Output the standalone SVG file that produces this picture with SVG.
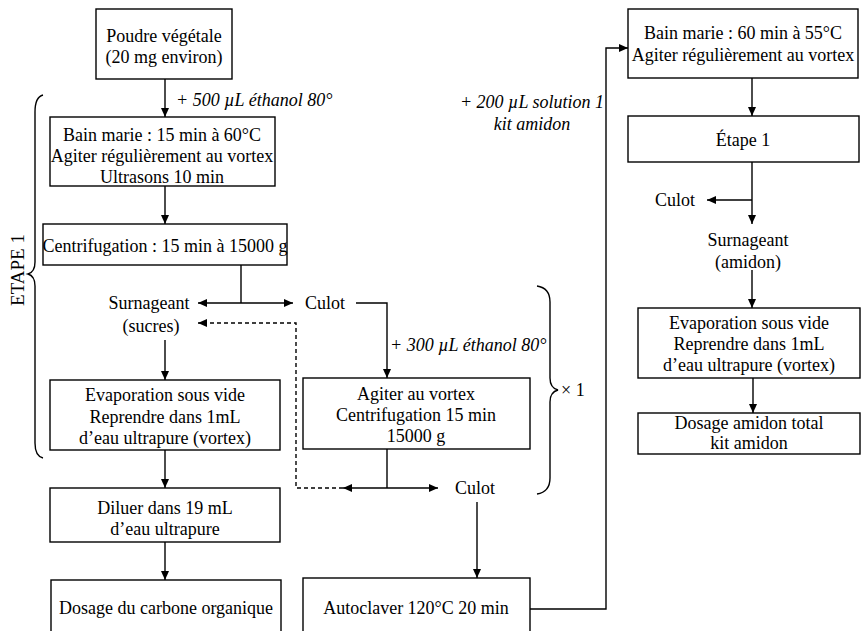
<svg xmlns="http://www.w3.org/2000/svg" width="863" height="631" viewBox="0 0 863 631">
<style>
.box{fill:#fff;stroke:#000;stroke-width:1.4}
.t{font-family:"Liberation Serif","Times New Roman",serif;font-size:18px;fill:#000;text-anchor:middle}
.i{font-style:italic}
.c{fill:none;stroke:#000;stroke-width:1.4}
.d{stroke-dasharray:4 3}
</style>
<defs>
<marker id="a" markerWidth="10" markerHeight="8" refX="9" refY="4" orient="auto" markerUnits="userSpaceOnUse">
<path d="M0,0 L9,4 L0,8 z" fill="#000"/>
</marker>
</defs>
<rect width="863" height="631" fill="#fff"/>
<g id="connectors">
<path class="c" d="M165,79 V117" marker-end="url(#a)"/>
<path class="c" d="M165,186 V224" marker-end="url(#a)"/>
<path class="c" d="M241,265 V303"/>
<path class="c" d="M241,303 H198" marker-end="url(#a)"/>
<path class="c" d="M241,303 H293" marker-end="url(#a)"/>
<path class="c" d="M165,340 V380" marker-end="url(#a)"/>
<path class="c" d="M165,450 V488" marker-end="url(#a)"/>
<path class="c" d="M165,542 V580" marker-end="url(#a)"/>
<path class="c" d="M356,303 H387 V378" marker-end="url(#a)"/>
<path class="c" d="M387,449 V488"/>
<path class="c" d="M387,488 H343" marker-end="url(#a)"/>
<path class="c" d="M387,488 H438" marker-end="url(#a)"/>
<path class="c d" d="M343,488 H296 V323 H198" marker-end="url(#a)"/>
<path class="c" d="M477,502 V578" marker-end="url(#a)"/>
<path class="c" d="M530,609 H606 V48 H628" marker-end="url(#a)"/>
<path class="c" d="M752,78 V116" marker-end="url(#a)"/>
<path class="c" d="M752,162 V224" marker-end="url(#a)"/>
<path class="c" d="M752,200 H707" marker-end="url(#a)"/>
<path class="c" d="M752,270 V308" marker-end="url(#a)"/>
<path class="c" d="M753,378 V413" marker-end="url(#a)"/>
</g>
<g id="labels">
<text class="t i" x="176" y="106" style="text-anchor:start">+ 500 µL éthanol 80°</text>
<text class="t i" x="390" y="351" style="text-anchor:start">+ 300 µL éthanol 80°</text>
<text class="t i" x="532" y="108">+ 200 µL solution 1</text>
<text class="t i" x="532" y="130">kit amidon</text>
</g>
<g id="brace-etape1">
<path class="c" d="M43,95 Q35,97 35,112 V262 Q35,272 28,274 Q35,276 35,286 V443 Q35,456 43,458"/>
<text class="t" transform="translate(24,270) rotate(-90)" style="font-size:19px">ETAPE 1</text>
</g>
<g id="brace-x1">
<path class="c" d="M537,286 Q550,288 550,302 V378 Q550,388 558,390 Q550,392 550,402 V478 Q550,492 537,494"/>
<text class="t" x="561" y="396" style="text-anchor:start">× 1</text>
</g>
<g id="n1"><rect class="box" x="96" y="9" width="136" height="70"/>
<text class="t" x="164" y="42">Poudre végétale</text><text class="t" x="164" y="63">(20 mg environ)</text></g>
<g id="n2"><rect class="box" x="50" y="117" width="225" height="69"/>
<text class="t" x="162" y="141">Bain marie : 15 min à 60°C</text><text class="t" x="162" y="162">Agiter régulièrement au vortex</text><text class="t" x="162" y="183">Ultrasons 10 min</text></g>
<g id="n3"><rect class="box" x="43" y="224" width="244" height="41"/>
<text class="t" x="165" y="252">Centrifugation : 15 min à 15000 g</text></g>
<g id="n4"><text class="t" x="149" y="309">Surnageant</text><text class="t" x="151" y="332">(sucres)</text></g>
<g id="n5"><text class="t" x="325" y="309">Culot</text></g>
<g id="n6"><rect class="box" x="50" y="380" width="230" height="70"/>
<text class="t" x="165" y="401">Evaporation sous vide</text><text class="t" x="165" y="423">Reprendre dans 1mL</text><text class="t" x="165" y="444">d’eau ultrapure (vortex)</text></g>
<g id="n7"><rect class="box" x="50" y="488" width="230" height="54"/>
<text class="t" x="165" y="514">Diluer dans 19 mL</text><text class="t" x="165" y="535">d’eau ultrapure</text></g>
<g id="n8"><rect class="box" x="51" y="580" width="230" height="70"/>
<text class="t" x="166" y="614">Dosage du carbone organique</text></g>
<g id="n9"><rect class="box" x="303" y="378" width="227" height="71"/>
<text class="t" x="416" y="400">Agiter au vortex</text><text class="t" x="416" y="421">Centrifugation 15 min</text><text class="t" x="416" y="442">15000 g</text></g>
<g id="n10"><text class="t" x="475" y="494">Culot</text></g>
<g id="n11"><rect class="box" x="303" y="578" width="227" height="72"/>
<text class="t" x="416" y="614">Autoclaver 120°C 20 min</text></g>
<g id="n12"><rect class="box" x="628" y="9" width="230" height="69"/>
<text class="t" x="743" y="39">Bain marie : 60 min à 55°C</text><text class="t" x="743" y="61">Agiter régulièrement au vortex</text></g>
<g id="n13"><rect class="box" x="628" y="116" width="231" height="46"/>
<text class="t" x="743" y="146">Étape 1</text></g>
<g id="n14"><text class="t" x="675" y="206">Culot</text></g>
<g id="n15"><text class="t" x="748" y="246">Surnageant</text><text class="t" x="748" y="268">(amidon)</text></g>
<g id="n16"><rect class="box" x="638" y="308" width="222" height="70"/>
<text class="t" x="749" y="329">Evaporation sous vide</text><text class="t" x="749" y="350">Reprendre dans 1mL</text><text class="t" x="749" y="371">d’eau ultrapure (vortex)</text></g>
<g id="n17"><rect class="box" x="638" y="413" width="222" height="41"/>
<text class="t" x="749" y="429">Dosage amidon total</text><text class="t" x="749" y="449">kit amidon</text></g>
</svg>
